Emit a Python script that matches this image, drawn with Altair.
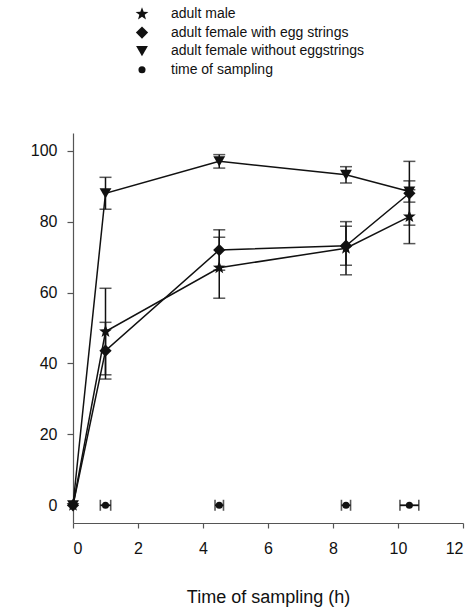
import math
import altair as alt
import pandas as pd

# Sampling times (h) and mean survival (%) with error bars for each group
times = [0, 1.0, 4.5, 8.4, 10.35]
male = [0, 49.0, 67.0, 72.5, 81.4]
male_err = [0, 12.2, 8.6, 7.5, 7.6]
female_eggs = [0, 43.6, 72.0, 73.2, 88.0]
female_eggs_err = [0, 8.0, 5.7, 5.5, 9.0]
female_no_eggs = [0, 88.0, 97.0, 93.2, 88.5]
female_no_eggs_err = [0, 4.5, 1.9, 2.3, 3.0]

# Mean time of sampling with its spread, drawn along the zero line
sample_times = [1.0, 4.5, 8.4, 10.35]
sample_sd = [0.16, 0.13, 0.14, 0.29]

labels = ["adult male", "adult female with egg strings",
          "adult female without eggstrings", "time of sampling"]

# five-pointed star as a custom symbol path
pts = []
for k in range(10):
    r = 1.0 if k % 2 == 0 else 0.42
    a = math.radians(-90 + 36 * k)
    pts.append(f"{r * math.cos(a):.3f},{r * math.sin(a):.3f}")
star = "M" + "L".join(pts) + "Z"

rows = []
for name, vals, errs in [(labels[0], male, male_err),
                         (labels[1], female_eggs, female_eggs_err),
                         (labels[2], female_no_eggs, female_no_eggs_err)]:
    for t, v, e in zip(times, vals, errs):
        rows.append({"series": name, "time": t, "value": v, "err": e,
                     "lo": v - e, "hi": v + e})
df = pd.DataFrame(rows)

sdf = pd.DataFrame({"series": labels[3], "time": sample_times, "sd": sample_sd,
                    "value": [0.0] * len(sample_times)})
sdf["lo"] = sdf["time"] - sdf["sd"]
sdf["hi"] = sdf["time"] + sdf["sd"]

FONT = "Liberation Sans"
INK = "#111111"

xs = alt.Scale(domain=[0, 12], nice=False)
ys = alt.Scale(domain=[-5, 105], nice=False)

legend = alt.Legend(title=None, orient="none", legendX=62, legendY=-126,
                    labelFontSize=14, labelFont=FONT, labelColor=INK,
                    labelOffset=22, labelLimit=0, rowPadding=4.6, padding=0,
                    symbolStrokeWidth=0, symbolFillColor=INK)

shape_enc = alt.Shape("series:N", scale=alt.Scale(
    domain=labels, range=[star, "diamond", "triangle-down", "circle"]),
    legend=legend)
size_enc = alt.Size("series:N", scale=alt.Scale(
    type="ordinal", domain=labels, range=[180, 150, 140, 50]), legend=legend)

x_enc = alt.X("time:Q", scale=xs, title="Time of sampling (h)",
              axis=alt.Axis(values=list(range(13)),
                            labelExpr="datum.value % 2 == 0 ? datum.label : ''",
                            tickSize=5, labelPadding=12, titlePadding=32))
y_enc = alt.Y("value:Q", scale=ys, title=None,
              axis=alt.Axis(values=[0, 20, 40, 60, 80, 100], tickSize=6,
                            labelPadding=10))

base = alt.Chart(df)

lines = base.mark_line(color=INK, strokeWidth=1.5).encode(
    x=x_enc, y=y_enc, detail="series:N")

err_df = base.transform_filter("datum.err > 0")
bars = err_df.mark_rule(color=INK, strokeWidth=1.5).encode(
    x="time:Q", y="lo:Q", y2="hi:Q")
caps = err_df.transform_fold(["lo", "hi"], as_=["end", "cap"]).mark_tick(
    color=INK, orient="horizontal", size=12, thickness=1.5).encode(
    x="time:Q", y=alt.Y("cap:Q", scale=ys))

points = base.mark_point(filled=True, opacity=1, color=INK).encode(
    x="time:Q", y="value:Q", shape=shape_enc, size=size_enc)

sbase = alt.Chart(sdf)
sbar = sbase.mark_rule(color=INK, strokeWidth=1.8).encode(
    x="lo:Q", x2="hi:Q", y="value:Q")
scaps = sbase.transform_fold(["lo", "hi"], as_=["end", "cap"]).mark_tick(
    color=INK, orient="vertical", size=11, thickness=1.6).encode(
    x=alt.X("cap:Q", scale=xs), y="value:Q")
spoints = sbase.mark_point(filled=True, opacity=1, color=INK).encode(
    x="time:Q", y="value:Q", shape=shape_enc, size=size_enc)

chart = alt.layer(lines, bars, caps, sbar, scaps, points, spoints).properties(
    width=390, height=390,
    autosize=alt.AutoSizeParams(type="none"),
    padding={"left": 73, "top": 133, "right": 6, "bottom": 91},
    background="white",
).configure_view(stroke=None).configure_axis(
    grid=False, domainColor="#555555", tickColor="#555555",
    domainWidth=1.2, tickWidth=1.2,
    labelFont=FONT, labelFontSize=16, labelColor=INK,
    titleFont=FONT, titleFontSize=18, titleColor=INK, titleFontWeight="normal",
)

chart.save("out.html", embed_options={"renderer": "svg", "actions": False})
